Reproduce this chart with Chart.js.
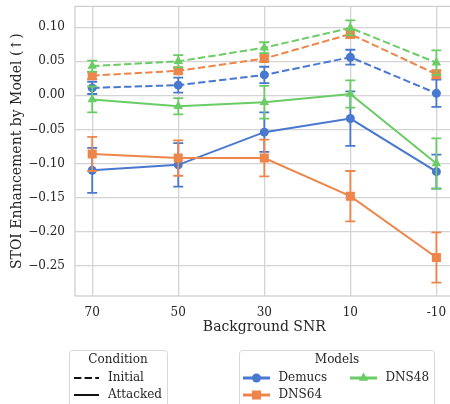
<!DOCTYPE html>
<html>
<head>
<meta charset="utf-8">
<script src="https://cdn.jsdelivr.net/npm/chart.js@4.4.1/dist/chart.umd.min.js"></script>
<style>
  html, body { margin: 0; padding: 0; background: #fff; }
  #wrap { width: 450px; height: 404px; overflow: hidden; position: relative; }
  #stoiChart { position: absolute; left: 0; top: 0; }
</style>
</head>
<body>
<div id="wrap"><canvas id="stoiChart" width="460" height="404"></canvas></div>
<script>
const snrLabels = ["70", "50", "30", "10", "-10"];
const yTicks = [-0.25, -0.2, -0.15, -0.1, -0.05, 0, 0.05, 0.1];

const demucsInitial = [0.011, 0.015, 0.030, 0.056, 0.003];
const demucsInitialErr = [0.009, 0.011, 0.012, 0.011, 0.020];
const dns64Initial = [0.029, 0.036, 0.054, 0.090, 0.031];
const dns64InitialErr = [0.005, 0.004, 0.004, 0.006, 0.006];
const dns48Initial = [0.043, 0.050, 0.070, 0.099, 0.048];
const dns48InitialErr = [0.008, 0.009, 0.008, 0.011, 0.018];

const demucsAttacked = [-0.110, -0.102, -0.054, -0.034, -0.112];
const demucsAttackedErr = [0.033, 0.032, 0.029, 0.040, 0.025];
const dns64Attacked = [-0.086, -0.092, -0.092, -0.148, -0.238];
const dns64AttackedErr = [0.025, 0.026, 0.027, 0.037, 0.037];
const dns48Attacked = [-0.006, -0.016, -0.010, 0.002, -0.100];
const dns48AttackedErr = [0.019, 0.012, 0.024, 0.020, 0.037];

const BLUE = "#4878d0";
const ORANGE = "#ee854a";
const GREEN = "#6acc64";
const DASH = [7.4, 3.2];
const FONT = "'DejaVu Serif', serif";
const TEXT = "#262626";

function toPoints(values) {
  return values.map((v, i) => ({ x: i, y: v }));
}

function series(label, values, errors, color, shape, radius, dashed) {
  return {
    label: label,
    data: toPoints(values),
    errors: errors,
    borderColor: color,
    backgroundColor: color,
    borderWidth: 2,
    borderDash: dashed ? DASH : [],
    pointStyle: shape,
    pointRadius: radius,
    pointBorderWidth: 0,
    pointBackgroundColor: color,
    tension: 0,
  };
}

// error bars go under each dataset's own line
const errorBars = {
  id: "errorBars",
  beforeDatasetDraw(chart, args) {
    const ds = chart.data.datasets[args.index];
    if (!ds.errors) return;
    const ctx = chart.ctx;
    const y = chart.scales.y;
    ctx.save();
    ctx.strokeStyle = ds.borderColor;
    ctx.lineWidth = 1.8;
    ctx.setLineDash([]);
    args.meta.data.forEach((pt, i) => {
      const v = ds.data[i].y;
      const e = ds.errors[i];
      const top = y.getPixelForValue(v + e);
      const bot = y.getPixelForValue(v - e);
      ctx.beginPath();
      ctx.moveTo(pt.x, top);
      ctx.lineTo(pt.x, bot);
      ctx.moveTo(pt.x - 5, top);
      ctx.lineTo(pt.x + 5, top);
      ctx.moveTo(pt.x - 5, bot);
      ctx.lineTo(pt.x + 5, bot);
      ctx.stroke();
    });
    ctx.restore();
  },
};

const frame = {
  id: "frame",
  beforeDatasetsDraw(chart) {
    const { left, top, right, bottom } = chart.chartArea;
    const ctx = chart.ctx;
    ctx.save();
    ctx.strokeStyle = "#cfcfcf";
    ctx.lineWidth = 1.3;
    ctx.strokeRect(left, top, right - left, bottom - top);
    ctx.restore();
  },
};

function legendBox(ctx, x, y, w, h) {
  ctx.beginPath();
  ctx.roundRect(x, y, w, h, 3);
  ctx.fillStyle = "rgba(255,255,255,0.85)";
  ctx.fill();
  ctx.strokeStyle = "#d8d8d8";
  ctx.lineWidth = 1;
  ctx.stroke();
}

function legendLine(ctx, x0, x1, y, color, width, dash) {
  ctx.beginPath();
  ctx.setLineDash(dash);
  ctx.strokeStyle = color;
  ctx.lineWidth = width;
  ctx.moveTo(x0, y);
  ctx.lineTo(x1, y);
  ctx.stroke();
  ctx.setLineDash([]);
}

const legends = {
  id: "legends",
  afterDraw(chart) {
    const ctx = chart.ctx;
    ctx.save();
    ctx.font = "12px " + FONT;
    ctx.textBaseline = "middle";

    // condition (line style)
    legendBox(ctx, 69.5, 350.5, 98, 70);
    ctx.fillStyle = TEXT;
    ctx.textAlign = "center";
    ctx.fillText("Condition", 118, 360);
    ctx.textAlign = "left";
    legendLine(ctx, 74, 99, 378, "#111", 2, DASH);
    legendLine(ctx, 74, 99, 395, "#111", 2, []);
    ctx.fillStyle = TEXT;
    ctx.fillText("Initial", 108, 378);
    ctx.fillText("Attacked", 108, 395);

    // models (colour + marker)
    legendBox(ctx, 239.5, 350.5, 195, 70);
    ctx.fillStyle = TEXT;
    ctx.textAlign = "center";
    ctx.fillText("Models", 337, 360);
    ctx.textAlign = "left";
    const items = [
      ["Demucs", BLUE, "circle", 4.5, 243, 378],
      ["DNS48", GREEN, "triangle", 5.5, 350, 378],
      ["DNS64", ORANGE, "rect", 6.4, 243, 395],
    ];
    items.forEach(([name, color, shape, r, x0, yy]) => {
      legendLine(ctx, x0, x0 + 27, yy, color, 3, []);
      ctx.fillStyle = color;
      Chart.helpers.drawPoint(ctx, { pointStyle: shape, radius: r, borderWidth: 0 }, x0 + 13.5, yy);
      ctx.fillStyle = TEXT;
      ctx.fillText(name, x0 + 35.5, yy);
    });
    ctx.restore();
  },
};

// keep the plot box where the layout puts it, no room reserved for edge labels
function noEdgePadding(scale) {
  scale.paddingTop = 0;
  scale.paddingBottom = 0;
  scale.paddingLeft = 0;
  scale.paddingRight = 0;
}

const stoiChart = new Chart(document.getElementById("stoiChart").getContext("2d"), {
  type: "line",
  data: {
    datasets: [
      series("DNS48 Initial", dns48Initial, dns48InitialErr, GREEN, "triangle", 5.5, true),
      series("DNS48 Attacked", dns48Attacked, dns48AttackedErr, GREEN, "triangle", 5.5, false),
      series("DNS64 Initial", dns64Initial, dns64InitialErr, ORANGE, "rect", 6.4, true),
      series("DNS64 Attacked", dns64Attacked, dns64AttackedErr, ORANGE, "rect", 6.4, false),
      series("Demucs Initial", demucsInitial, demucsInitialErr, BLUE, "circle", 4.5, true),
      series("Demucs Attacked", demucsAttacked, demucsAttackedErr, BLUE, "circle", 4.5, false),
    ],
  },
  options: {
    responsive: false,
    animation: false,
    devicePixelRatio: 1,
    layout: { padding: { left: 0, right: 4, top: 5, bottom: 68 } },
    plugins: {
      legend: { display: false },
      tooltip: { enabled: false },
    },
    scales: {
      x: {
        type: "linear",
        min: -0.2,
        max: 4.2,
        afterBuildTicks: (scale) => {
          scale.ticks = snrLabels.map((_, i) => ({ value: i }));
        },
        afterFit: (scale) => {
          scale.height = 40;
          noEdgePadding(scale);
        },
        grid: { color: "#d4d4d4", lineWidth: 1.3, drawTicks: false },
        border: { display: false },
        ticks: {
          padding: 10,
          color: TEXT,
          font: { family: FONT, size: 12 },
          maxRotation: 0,
          callback: (v) => snrLabels[v],
        },
        title: {
          display: true,
          text: "Background SNR",
          color: TEXT,
          font: { family: FONT, size: 14 },
          padding: { top: 0, bottom: 0 },
        },
      },
      y: {
        min: -0.2945,
        max: 0.1306,
        afterBuildTicks: (scale) => {
          scale.ticks = yTicks.map((v) => ({ value: v }));
        },
        afterFit: (scale) => {
          scale.width = 75;
          noEdgePadding(scale);
        },
        grid: { color: "#d4d4d4", lineWidth: 1.3, drawTicks: false },
        border: { display: false },
        ticks: {
          padding: 10,
          color: TEXT,
          font: { family: FONT, size: 12 },
          callback: (v) => (v < -1e-9 ? "\u2212" : "") + Math.abs(v).toFixed(2),
        },
        title: {
          display: true,
          text: "STOI Enhancement by Model (\u2191)",
          color: TEXT,
          font: { family: FONT, size: 14 },
          padding: { top: 9, bottom: 0 },
        },
      },
    },
  },
  plugins: [frame, errorBars, legends],
});
</script>
</body>
</html>
